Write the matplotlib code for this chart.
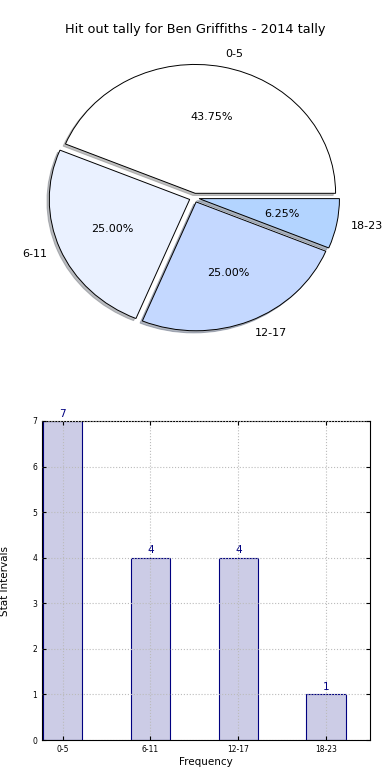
import numpy as np
import matplotlib
matplotlib.use('Agg')
import matplotlib.pyplot as plt

intervals = ['0-5', '6-11', '12-17', '18-23']
counts = [7, 4, 4, 1]
pie_colors = ['#ffffff', '#eaf1ff', '#c4d8ff', '#b3d4ff']

fig = plt.figure(figsize=(3.9, 7.8), dpi=100)

# pie (not equal aspect, stretched like the original)
ax1 = fig.add_axes([0.048, 0.540, 0.9, 0.413])
wedges, texts, autotexts = ax1.pie(counts, labels=intervals, colors=pie_colors,
                                   explode=[0.035] * 4, autopct='%1.2f%%',
                                   shadow={'ox': -0.012, 'oy': -0.012, 'shade': 0.5},
                                   startangle=0, textprops={'fontsize': 8},
                                   wedgeprops={'edgecolor': 'black', 'linewidth': 0.7})
ax1.set_aspect('auto')
fig.text(0.5, 1 - 30 / 780, 'Hit out tally for Ben Griffiths - 2014 tally',
         ha='center', va='center', fontsize=9.3)

# bars
ax2 = fig.add_axes([42 / 390, 40 / 780, 328 / 390, 319 / 780])
x = np.arange(len(intervals))
ax2.bar(x, counts, width=0.45, color='#cccce6', edgecolor='navy',
        linewidth=0.8, zorder=2)
for xi, c in zip(x, counts):
    ax2.text(xi, c + 0.05, str(c), ha='center', va='bottom', color='navy', fontsize=7.5)
ax2.set_xlim(-0.235, 3.5)
ax2.set_ylim(0, 7)
ax2.set_xticks(x)
ax2.set_xticklabels(intervals)
ax2.tick_params(labelsize=5.5, direction='in', top=True, right=True, length=3)
ax2.grid(True, linestyle=':', color='#bbbbbb', linewidth=0.8, zorder=0)
ax2.set_axisbelow(False)
ax2.set_xlabel('Frequency', fontsize=7.5, labelpad=2)
ax2.set_ylabel('Stat Intervals', fontsize=7.5, labelpad=16)

fig.savefig('out.png', dpi=100)
